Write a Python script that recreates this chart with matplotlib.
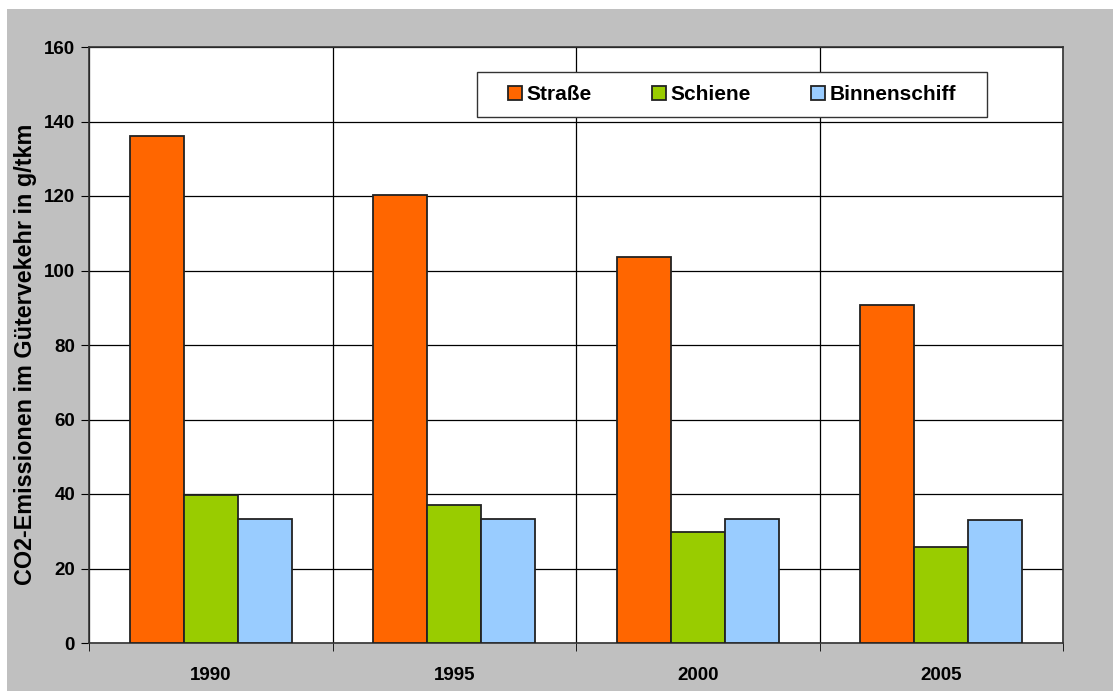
import numpy as np
import matplotlib.pyplot as plt
from matplotlib.patches import Rectangle

years = ['1990', '1995', '2000', '2005']
strasse = [136.0, 120.3, 103.6, 90.7]
schiene = [39.7, 37.1, 29.9, 25.9]
binnenschiff = [33.2, 33.4, 33.4, 33.1]

series = [('Straße', strasse, '#ff6600'),
          ('Schiene', schiene, '#99cc00'),
          ('Binnenschiff', binnenschiff, '#99ccff')]

plt.rcParams['font.family'] = ['Liberation Sans', 'DejaVu Sans']
plt.rcParams['font.weight'] = 'bold'

W, H = 1113, 691
fig = plt.figure(figsize=(W / 100, H / 100), dpi=100, facecolor='white')
# grey chart-area background, with a thin white margin at top and left
fig.patches.append(Rectangle((7 / W, 0), 1 - 7 / W, 1 - 9 / H,
                             transform=fig.transFigure, facecolor='#c0c0c0',
                             edgecolor='none', zorder=-10))

ax = fig.add_axes([89 / W, (H - 643) / H, (1063 - 89) / W, (643 - 47) / H])
ax.set_zorder(1)
ax.set_facecolor('white')

x = np.arange(len(years))
bw = 1 / 4.5
for i, (name, vals, col) in enumerate(series):
    ax.bar(x + (i - 1) * bw, vals, bw, color=col, edgecolor='#222222',
           linewidth=1.3, label=name, zorder=3)

ax.set_xlim(-0.5, len(years) - 0.5)
ax.set_ylim(0, 160)
ax.set_yticks(np.arange(0, 161, 20))
ax.set_xticks(x)
ax.set_xticklabels(years, fontsize=13.5, fontweight='bold')
ax.set_xticks(np.arange(-0.5, len(years), 1), minor=True)
ax.tick_params(axis='x', which='major', length=0, pad=17)
ax.tick_params(axis='x', which='minor', length=6, direction='out', color='black')
ax.tick_params(axis='y', length=6, direction='out', labelsize=13.5, pad=4)
for lab in ax.get_yticklabels():
    lab.set_fontweight('bold')

ax.grid(True, axis='y', color='black', linewidth=0.9, zorder=1)
ax.grid(True, axis='x', which='minor', color='black', linewidth=0.9, zorder=1)
for s in ax.spines.values():
    s.set_color('#333333')
    s.set_linewidth(1.2)

ax.set_ylabel('CO2-Emissionen im Gütervekehr in g/tkm', fontsize=16.8,
              fontweight='bold')
ax.yaxis.set_label_coords((37 - 89) / 974, 0.485)

# legend box drawn separately so the inner padding matches the original
bx0, bx1 = (477 - 89) / 974, (987 - 89) / 974
by0, by1 = (643 - 117) / 596, (643 - 72) / 596
ax.add_patch(Rectangle((bx0, by0), bx1 - bx0, by1 - by0, transform=ax.transAxes,
                       facecolor='white', edgecolor='#333333', linewidth=1.0,
                       zorder=4))
leg = ax.legend(loc='center', bbox_to_anchor=((bx0 + bx1) / 2, (by0 + by1) / 2),
                ncol=3, frameon=False, fontsize=15,
                handlelength=0.68, handleheight=0.68, handletextpad=0.25,
                columnspacing=2.85, borderpad=0, borderaxespad=0)
for t in leg.get_texts():
    t.set_fontweight('bold')
leg.set_zorder(5)

fig.savefig('out.png', dpi=100, facecolor=fig.get_facecolor())
